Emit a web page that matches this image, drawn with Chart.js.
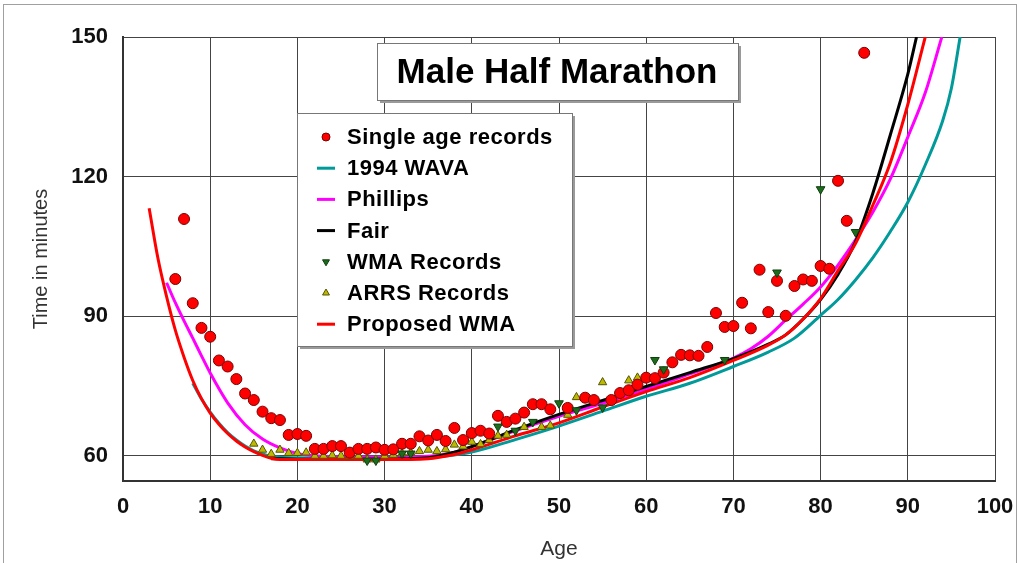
<!DOCTYPE html>
<html>
<head>
<meta charset="utf-8">
<script src="https://cdn.jsdelivr.net/npm/chart.js@4.4.1/dist/chart.umd.min.js"></script>
<style>
  html, body { margin: 0; padding: 0; background: #fff; }
  #wrap { position: absolute; left: 0; top: 0; width: 1019px; height: 563px; }
  #frame { position: absolute; left: 3px; top: 4px; width: 1012px; height: 580px; border: 1px solid #a0a0a0; pointer-events: none; }
</style>
</head>
<body>
<div id="wrap"><canvas id="chart" width="1019" height="563"></canvas></div>
<div id="frame"></div>
<script>
const chartTitle = 'Male Half Marathon'
const yTicks = [60, 90, 120, 150]

// single age records
const singleAges = [6, 7, 8, 9, 10, 11, 12, 13, 14, 15, 16, 17, 18, 19, 20, 21, 22, 23, 24, 25, 26, 27, 28, 29, 30,
  31, 32, 33, 34, 35, 36, 37, 38, 39, 40, 41, 42, 43, 44, 45, 46, 47, 48, 49, 51, 53, 54, 56, 57, 58, 59, 60,
  61, 62, 63, 64, 65, 66, 67, 68, 69, 70, 71, 72, 73, 74, 75, 76, 77, 78, 79, 80, 81, 82, 83, 85]
const singleTimes = [98, 110.9, 92.8, 87.5, 85.6, 80.5, 79.2, 76.5, 73.4, 72, 69.5, 68.1, 67.7, 64.5, 64.7, 64.3, 61.5, 61.5, 62.1, 62.1, 60.7, 61.5, 61.5, 61.8, 61.3,
  61.4, 62.6, 62.6, 64.2, 63.3, 64.5, 63.2, 66, 63.4, 64.9, 65.4, 64.8, 68.6, 67.3, 68, 69.3, 71.1, 71.1, 70, 70.3, 72.5, 72, 72, 73.5, 74.1, 75.3, 76.8,
  76.7, 77.9, 80.1, 81.7, 81.6, 81.5, 83.4, 90.7, 87.7, 87.9, 92.9, 87.4, 100, 90.9, 97.6, 90.1, 96.5, 97.9, 97.6, 100.8, 100.2, 119.1, 110.5, 146.6]

// WMA records
const wmaAges = [28, 29, 32, 33, 43, 45, 47, 50, 52, 55, 61, 62, 69, 75, 80, 84]
const wmaTimes = [59, 59, 60.5, 60.5, 66.3, 65.4, 67.3, 71.3, 69.8, 70.4, 80.6, 78.6, 80.6, 99.4, 117.3, 108.1]

// ARRS records
const arrsAges = [15, 16, 17, 18, 19, 20, 21, 22, 23, 24, 25, 26, 27, 28, 29, 30, 31, 32, 33, 34, 35, 36, 37, 38, 39,
  40, 41, 42, 43, 44, 46, 48, 49, 51, 52, 55, 58, 59]
const arrsTimes = [62.6, 61.3, 60.4, 61.3, 60.6, 60.6, 60.7, 60, 60, 60.1, 60, 59.9, 60, 59.2, 59.2, 60, 60.2, 60.5, 60.7, 61, 61.3, 61, 61.4, 62.4, 62,
  63, 62.5, 63.4, 64.3, 64.5, 66.2, 66.2, 66.5, 68.8, 72.6, 75.8, 76.2, 76.8]

// 1994 WAVA
const wavaAges = [8, 9, 10, 11, 12, 13, 14, 15, 16, 17, 18, 20, 25, 30, 35, 38, 40, 45, 50, 55, 60, 65, 70, 74, 77, 80, 82, 84, 86, 88, 90, 92, 94, 95, 96]
const wavaTimes = [75.6, 72.2, 69.4, 67, 65, 63.4, 62.1, 61.1, 60.4, 59.9, 59.7, 59.6, 59.5, 59.5, 59.7, 60.2, 60.8, 63.5, 66.4, 69.6, 72.8, 75.6, 79.2, 82.3, 85.3, 90.2, 93.6, 97.8, 102.6, 108.2, 114.5, 122.5, 132, 139, 150]

// Phillips
const phillipsAges = [5, 6, 7, 8, 9, 10, 12, 14, 16, 18, 20, 22, 25, 30, 35, 38, 40, 45, 50, 55, 60, 65, 70, 72, 74, 76, 78, 80, 82, 84, 86, 88, 90, 92, 93.9]
const phillipsTimes = [97.2, 92.9, 89, 85.3, 81.5, 77.8, 71.4, 66.7, 63.6, 61.7, 60.5, 60, 59.8, 59.7, 59.9, 60.8, 62, 65.4, 68.5, 71.3, 74.3, 77.6, 81, 83, 85.7, 89.2, 92.6, 96.3, 101, 106.4, 112.4, 119.5, 128.5, 138, 150]

// Fair
const fairAges = [17, 20, 25, 30, 35, 38, 40, 45, 50, 55, 60, 65, 70, 74, 76, 78, 80, 82, 84, 86, 88, 90, 91]
const fairTimes = [59.4, 59.3, 59.3, 59.3, 59.6, 60.8, 62, 65.6, 68.9, 71.9, 74.9, 77.9, 80.9, 84, 86, 89.4, 93.6, 99, 106, 116.5, 129, 142, 150]

// Proposed WMA
const proposedAges = [3, 4, 5, 6, 7, 8, 9, 10, 11, 12, 13, 14, 15, 16, 17, 18, 20, 25, 30, 35, 38, 40, 45, 50, 55, 60, 65, 70, 74, 76, 78, 80, 82, 84, 86, 88, 90, 92]
const proposedTimes = [113.2, 102.5, 94.2, 87, 81.2, 76.2, 72.3, 69.2, 66.8, 64.8, 63.2, 61.9, 60.9, 60.1, 59.5, 59.2, 59.2, 59.2, 59.2, 59.4, 60.3, 61.3, 64.3, 67.1, 70.5, 73.8, 76.8, 80.5, 83.8, 86, 89.4, 93.8, 99.8, 105.6, 113.9, 123, 135.5, 150]

const toPoints = (xs, ys) => xs.map((x, i) => ({ x: x, y: ys[i] }))

function lineSet(label, xs, ys, color, order) {
  return {
    label: label,
    data: toPoints(xs, ys),
    showLine: true,
    borderColor: color,
    backgroundColor: color,
    borderWidth: 3,
    pointRadius: 0,
    cubicInterpolationMode: 'monotone',
    order: order
  }
}

const datasets = [
  {
    label: 'Single age records',
    data: toPoints(singleAges, singleTimes),
    pointStyle: 'circle',
    pointRadius: 5.5,
    backgroundColor: '#ff0000',
    borderColor: '#7a0000',
    borderWidth: 1,
    order: 2
  },
  lineSet('1994 WAVA', wavaAges, wavaTimes, '#009a9a', 7),
  lineSet('Phillips', phillipsAges, phillipsTimes, '#ff00ff', 6),
  lineSet('Fair', fairAges, fairTimes, '#000000', 5),
  {
    label: 'WMA Records',
    data: toPoints(wmaAges, wmaTimes),
    pointStyle: 'triangle',
    rotation: 180,
    pointRadius: 5,
    backgroundColor: '#1d6b1d',
    borderColor: '#0f3f0f',
    borderWidth: 1,
    order: 1
  },
  {
    label: 'ARRS Records',
    data: toPoints(arrsAges, arrsTimes),
    pointStyle: 'triangle',
    pointRadius: 4.8,
    backgroundColor: '#bdb800',
    borderColor: '#555500',
    borderWidth: 1,
    order: 3
  },
  lineSet('Proposed WMA', proposedAges, proposedTimes, '#ff0000', 4)
]

function drawBox(ctx, x, y, w, h) {
  ctx.fillStyle = '#9a9a9a'
  ctx.fillRect(x + 3, y + 3, w, h)
  ctx.fillStyle = '#ffffff'
  ctx.fillRect(x, y, w, h)
  ctx.strokeStyle = '#777777'
  ctx.lineWidth = 1
  ctx.strokeRect(x + 0.5, y + 0.5, w, h)
}

const boxes = {
  id: 'boxes',
  afterDraw(chart) {
    const ctx = chart.ctx
    ctx.save()
    // title
    drawBox(ctx, 377, 43, 361, 57)
    ctx.fillStyle = '#000'
    ctx.font = 'bold 35px "Liberation Sans", Arial, sans-serif'
    ctx.textAlign = 'center'
    ctx.textBaseline = 'middle'
    ctx.fillText(chartTitle, 557, 73)

    // legend
    drawBox(ctx, 297, 113, 275, 233)
    ctx.font = 'bold 22px "Liberation Sans", Arial, sans-serif'
    ctx.letterSpacing = '0.5px'
    ctx.textAlign = 'left'
    chart.data.datasets.forEach((ds, i) => {
      const y = 137 + i * 31.2
      const mx = 326
      if (ds.showLine) {
        ctx.strokeStyle = ds.borderColor
        ctx.lineWidth = 3
        ctx.beginPath()
        ctx.moveTo(mx - 9, y)
        ctx.lineTo(mx + 9, y)
        ctx.stroke()
      } else {
        ctx.fillStyle = ds.backgroundColor
        ctx.strokeStyle = ds.borderColor
        ctx.lineWidth = 1
        Chart.helpers.drawPoint(ctx, {
          pointStyle: ds.pointStyle,
          rotation: ds.rotation || 0,
          radius: 4,
          borderWidth: 1
        }, mx, y)
      }
      ctx.fillStyle = '#000'
      ctx.fillText(ds.label, 347, y + 1)
    })
    ctx.restore()
  }
}

new Chart(document.getElementById('chart'), {
  type: 'scatter',
  data: { datasets: datasets },
  plugins: [boxes],
  options: {
    responsive: false,
    animation: false,
    layout: { padding: { top: 37, right: 24, left: 0, bottom: 0 } },
    plugins: {
      legend: { display: false },
      tooltip: { enabled: false }
    },
    scales: {
      x: {
        type: 'linear',
        min: 0,
        max: 100,
        afterFit: s => { s.height = 82; s.paddingRight = 0; s.paddingLeft = 0 },
        ticks: {
          stepSize: 10,
          color: '#111',
          padding: 13,
          font: { family: '"Liberation Sans", Arial, sans-serif', size: 22, weight: 'bold' }
        },
        grid: { color: '#444', lineWidth: 1, drawTicks: false },
        border: { color: '#333', width: 2 },
        title: {
          display: true,
          text: 'Age',
          color: '#333',
          padding: { top: 0, bottom: 1 },
          font: { family: '"Liberation Sans", Arial, sans-serif', size: 21 }
        }
      },
      y: {
        min: 54.6,
        max: 150,
        afterFit: s => { s.width = 123 },
        afterBuildTicks: axis => { axis.ticks = yTicks.map(v => ({ value: v })) },
        ticks: {
          color: '#111',
          padding: 15,
          font: { family: '"Liberation Sans", Arial, sans-serif', size: 22, weight: 'bold' }
        },
        grid: { color: '#444', lineWidth: 1, drawTicks: false },
        border: { color: '#333', width: 2 },
        title: {
          display: true,
          text: 'Time in minutes',
          color: '#333',
          padding: { top: 29, bottom: 0 },
          font: { family: '"Liberation Sans", Arial, sans-serif', size: 20 }
        }
      }
    }
  }
})
</script>
</body>
</html>
